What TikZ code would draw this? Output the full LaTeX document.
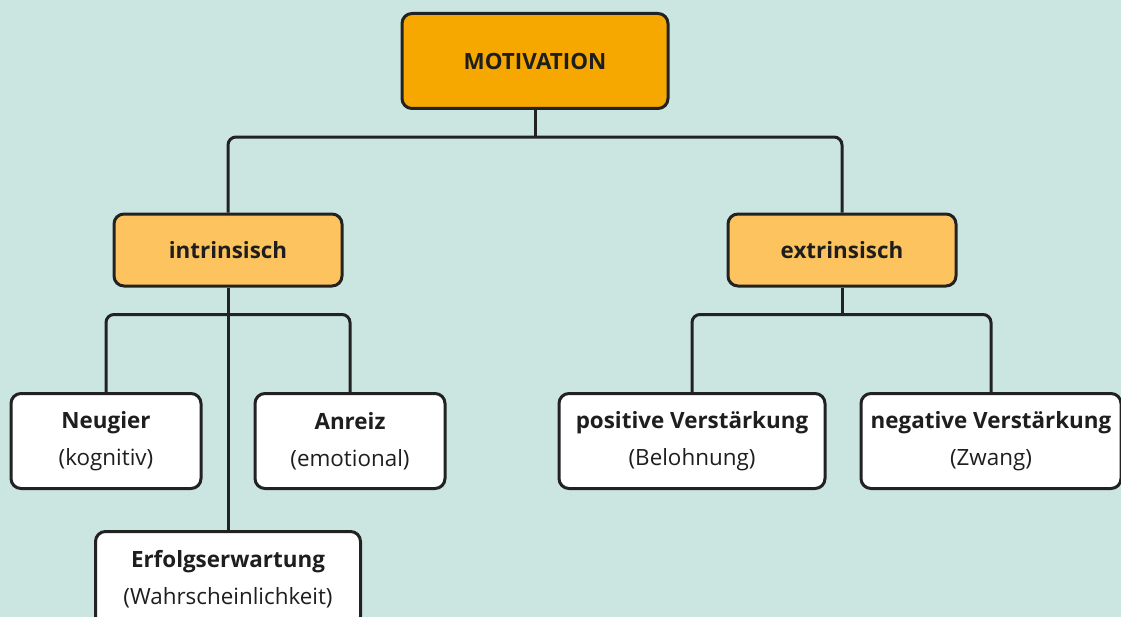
\documentclass[tikz,border=0pt]{standalone}
\usepackage{fontspec}
\setmainfont{Open Sans}
\usepackage{tikz}
\usetikzlibrary{arrows.meta,positioning,calc}
\definecolor{motivbg}{RGB}{203,230,225}
\definecolor{motivorange}{RGB}{246,168,0}
\definecolor{motivpale}{RGB}{252,195,94}
\definecolor{motivline}{RGB}{34,34,34}
\definecolor{motivtext}{RGB}{30,30,30}
\begin{document}
\begin{tikzpicture}[x=0.75pt,y=-0.75pt,
    every node/.style={align=center,font=\fontsize{16.8}{27.5}\selectfont,text=motivtext},
    box/.style={draw=motivline,line width=2.25pt,rounded corners=7.5pt,fill=white,minimum height=71.25pt,inner sep=0pt},
    midbox/.style={box,fill=motivpale,minimum width=171pt,minimum height=54pt},
    link/.style={draw=motivline,line width=2.25pt,rounded corners=6pt}]
  \path[use as bounding box,fill=motivbg] (0,0) rectangle (1121,617);
  \node[box,fill=motivorange,minimum width=199.5pt] (mot) at (535,61) {\textbf{MOTIVATION}};
  \node[midbox] (intr) at (228,250) {\textbf{intrinsisch}};
  \node[midbox] (extr) at (842,250) {\textbf{extrinsisch}};
  \node[box,minimum width=142.5pt] (neu) at (106,441) {\textbf{Neugier}\\(kognitiv)};
  \node[box,minimum width=142.5pt] (anr) at (350,441) {\textbf{Anreiz}\\(emotional)};
  \node[box,minimum width=198.75pt] (erf) at (228,579) {\textbf{Erfolgserwartung}\\(Wahrscheinlichkeit)};
  \node[box,minimum width=199.5pt] (pos) at (692,441) {\textbf{positive Verstärkung}\\(Belohnung)};
  \node[box,minimum width=195pt] (neg) at (991,441) {\textbf{negative Verstärkung}\\(Zwang)};
  % Verbindungen
  \draw[link] (mot.south) -- ++(0,27) coordinate (jmot);
  \draw[link] (jmot) -| (intr.north);
  \draw[link] (jmot) -| (extr.north);
  \draw[link] (intr.south) -- (erf.north);
  \coordinate (jintr) at ($(intr.south)+(0,27)$);
  \draw[link] (jintr) -| (neu.north);
  \draw[link] (jintr) -| (anr.north);
  \draw[link] (extr.south) -- ++(0,27) coordinate (jextr);
  \draw[link] (jextr) -| (pos.north);
  \draw[link] (jextr) -| (neg.north);
\end{tikzpicture}
\end{document}
